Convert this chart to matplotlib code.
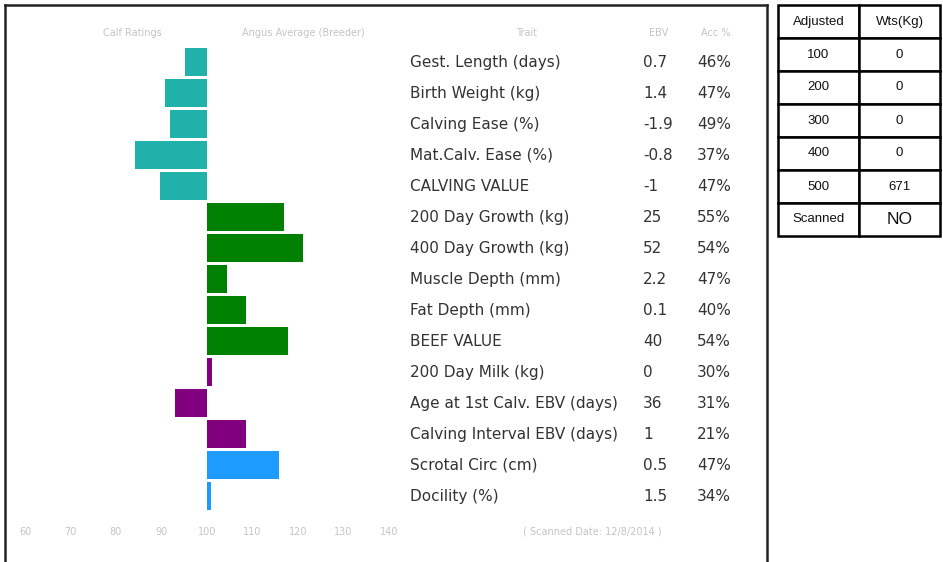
import matplotlib
matplotlib.use('Agg')
import matplotlib.pyplot as plt
import matplotlib.transforms as mtransforms
import numpy as np

# Data
traits = ['Gest. Length (days)', 'Birth Weight (kg)', 'Calving Ease (%)', 'Mat.Calv. Ease (%)',
          'CALVING VALUE', '200 Day Growth (kg)', '400 Day Growth (kg)', 'Muscle Depth (mm)',
          'Fat Depth (mm)', 'BEEF VALUE', '200 Day Milk (kg)', 'Age at 1st Calv. EBV (days)',
          'Calving Interval EBV (days)', 'Scrotal Circ (cm)', 'Docility (%)']
ebv = ['0.7', '1.4', '-1.9', '-0.8', '-1', '25', '52', '2.2', '0.1', '40', '0', '36', '1', '0.5', '1.5']
acc = ['46%', '47%', '49%', '37%', '47%', '55%', '54%', '47%', '40%', '54%', '30%', '31%', '21%', '47%', '34%']
index_vals = [95.2, 90.8, 91.9, 84.2, 89.7, 116.9, 121.1, 104.4, 108.6, 117.8, 101.1, 93.0, 108.6, 115.8, 100.9]
groups = ['calving'] * 5 + ['growth'] * 5 + ['fert'] * 3 + ['other'] * 2
group_colors = {'calving': '#20B2AA', 'growth': '#008000', 'fert': '#800080', 'other': '#1E9BFF'}
scale_ticks = [60, 70, 80, 90, 100, 110, 120, 130, 140]

table_rows = [['Adjusted', 'Wts(Kg)'], ['100', '0'], ['200', '0'], ['300', '0'],
              ['400', '0'], ['500', '671'], ['Scanned', 'NO']]

W, H = 943, 562
fig = plt.figure(figsize=(W / 100, H / 100), dpi=100)
fig.patch.set_facecolor('white')

# main box: px 5..767 horizontally, 5..562 vertically
x0, x1, y0 = 5, 767, 5
ax = fig.add_axes([x0 / W, 0, (x1 - x0) / W, (H - y0) / H])
zero_px, px_per_unit = 207, 4.55
ax.set_xlim(100 - (zero_px - x0) / px_per_unit, 100 + (x1 - zero_px) / px_per_unit)
row0, row_step = 62, 31
ax.set_ylim((H - row0) / row_step, (y0 - row0) / row_step)

rows = np.arange(len(traits))
vals = np.array(index_vals)
cols = [group_colors[g] for g in groups]
ax.barh(rows, vals - 100, left=100, height=0.9, color=cols)

ax.set_xticks([])
ax.set_yticks([])
for s in ['left', 'top', 'right']:
    ax.spines[s].set_color('#222222')
    ax.spines[s].set_linewidth(1.8)
ax.spines['bottom'].set_visible(False)

trans = mtransforms.blended_transform_factory(fig.transFigure, ax.transData)
txt_color = '#333333'
for i in rows:
    ax.text(410 / W, i, traits[i], transform=trans, fontsize=11, color=txt_color, va='center')
    ax.text(643 / W, i, ebv[i], transform=trans, fontsize=11, color=txt_color, va='center')
    ax.text(697 / W, i, acc[i], transform=trans, fontsize=11, color=txt_color, va='center')

# faint header / footer labels
faint = '#c4c4c4'
hdr_y = (33 - row0) / row_step
ax.text(132 / W, hdr_y, 'Calf Ratings', transform=trans, fontsize=7, color=faint, ha='center', va='center')
ax.text(303 / W, hdr_y, 'Angus Average (Breeder)', transform=trans, fontsize=7, color=faint, ha='center', va='center')
ax.text(527 / W, hdr_y, 'Trait', transform=trans, fontsize=7, color=faint, ha='center', va='center')
ax.text(659 / W, hdr_y, 'EBV', transform=trans, fontsize=7, color=faint, ha='center', va='center')
ax.text(716 / W, hdr_y, 'Acc %', transform=trans, fontsize=7, color=faint, ha='center', va='center')

ftr_y = (532 - row0) / row_step
for t in scale_ticks:
    ax.text(t, ftr_y, str(t), fontsize=7, color=faint, ha='center', va='center')
ax.text(592 / W, ftr_y, '( Scanned Date: 12/8/2014 )', transform=trans, fontsize=7,
        color=faint, ha='center', va='center')

# weights table
tx0, tx1, ty0, ty1 = 778, 940, 5, 236
tax = fig.add_axes([tx0 / W, (H - ty1) / H, (tx1 - tx0) / W, (ty1 - ty0) / H])
tax.axis('off')
tbl = tax.table(cellText=table_rows, cellLoc='center', bbox=[0, 0, 1, 1])
tbl.auto_set_font_size(False)
for (r, c), cell in tbl.get_celld().items():
    cell.set_linewidth(1.8)
    cell.set_edgecolor('black')
    cell.get_text().set_fontfamily('Liberation Sans')
    cell.get_text().set_fontsize(9.5)
    cell.get_text().set_color('#111111')
    if r == 6 and c == 1:
        cell.get_text().set_fontsize(12.5)

fig.savefig('out.png', dpi=100, facecolor='white')
